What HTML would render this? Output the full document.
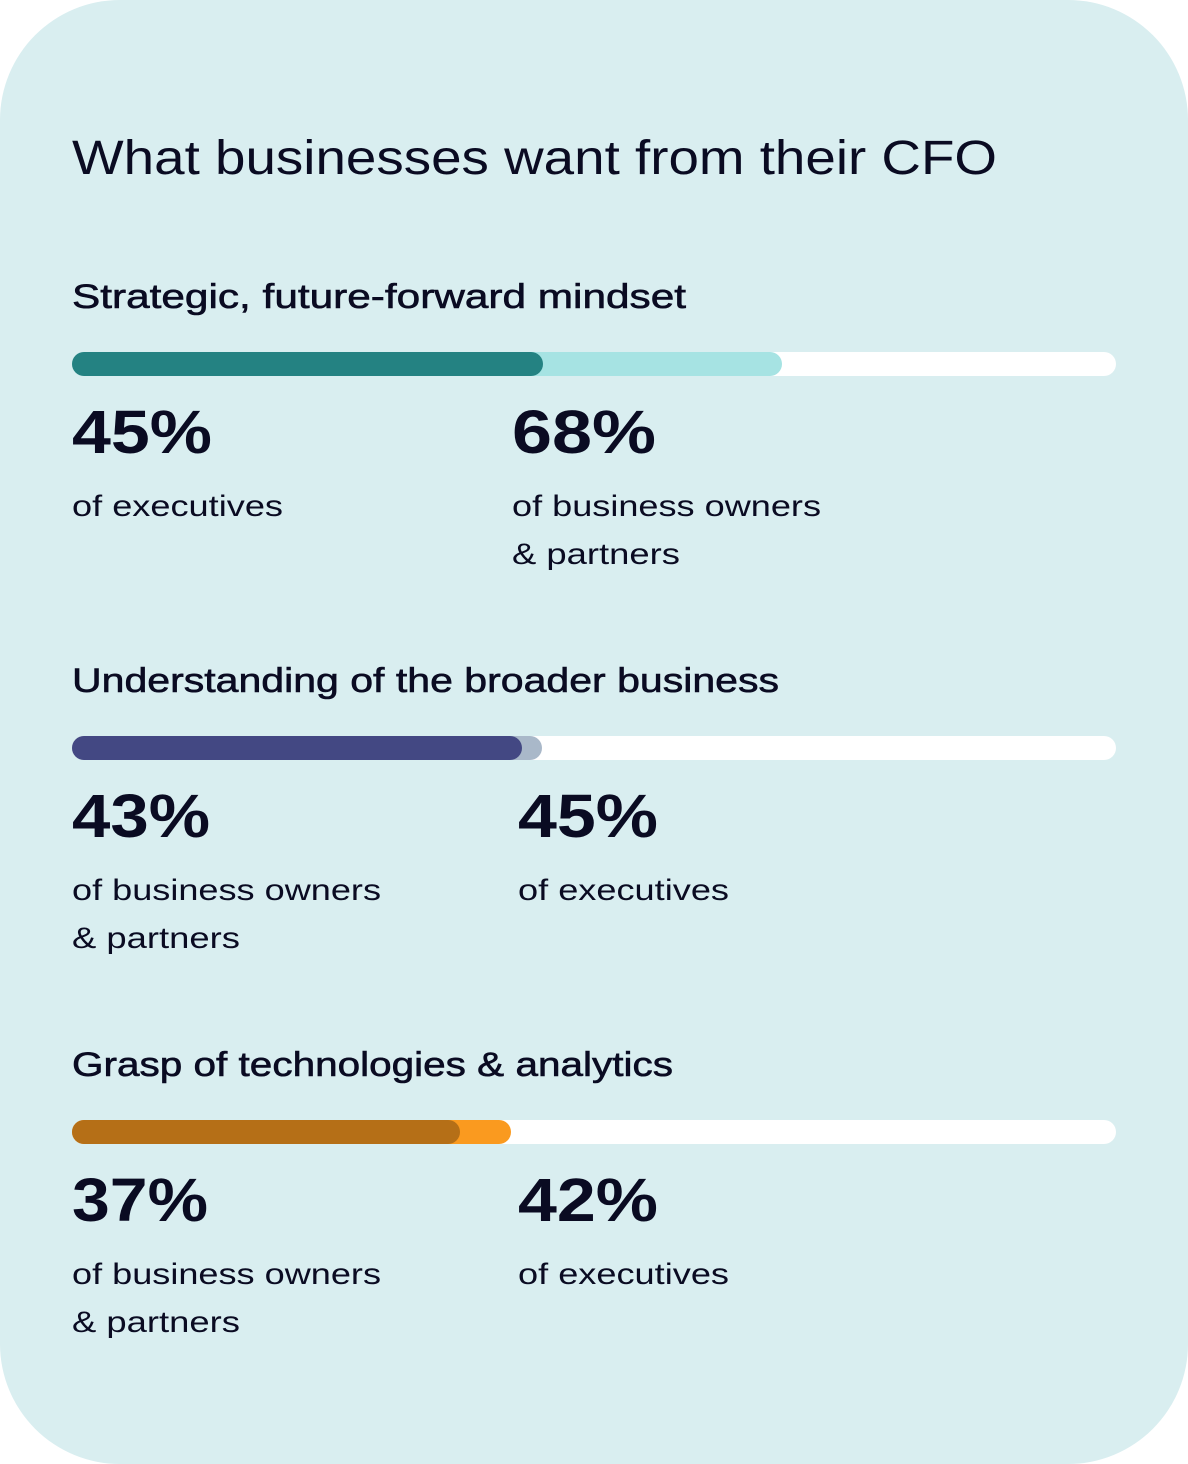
<!DOCTYPE html>
<html><head><meta charset="utf-8"><style>
html,body{margin:0;padding:0;background:#fff;}
svg{display:block}
text{font-family:"Liberation Sans",sans-serif;fill:#0a0b22}
.t{font-size:48px}
.h{font-size:34px;stroke:#0a0b22;stroke-width:0.6}
.p{font-size:61px;font-weight:bold}
.l{font-size:30px}
</style></head><body>
<svg width="1188" height="1464" viewBox="0 0 1188 1464">
<rect x="0" y="0" width="1188" height="1464" rx="120" fill="#d9eef0"/>
<text class="t" x="72" y="174" textLength="925" lengthAdjust="spacingAndGlyphs">What businesses want from their CFO</text>

<text class="h" x="72" y="308" textLength="614" lengthAdjust="spacingAndGlyphs">Strategic, future-forward mindset</text>
<rect x="72" y="352" width="1044" height="24" rx="12" fill="#fff"/>
<rect x="72" y="352" width="710" height="24" rx="12" fill="#a6e3e3"/>
<rect x="72" y="352" width="471" height="24" rx="12" fill="#248282"/>
<text class="p" x="72" y="453" textLength="140" lengthAdjust="spacingAndGlyphs">45%</text>
<text class="l" x="72" y="516" textLength="211" lengthAdjust="spacingAndGlyphs">of executives</text>
<text class="p" x="512" y="453" textLength="144" lengthAdjust="spacingAndGlyphs">68%</text>
<text class="l" x="512" y="516" textLength="309" lengthAdjust="spacingAndGlyphs">of business owners</text>
<text class="l" x="512" y="564" textLength="168" lengthAdjust="spacingAndGlyphs">&amp; partners</text>

<text class="h" x="72" y="692" textLength="707" lengthAdjust="spacingAndGlyphs">Understanding of the broader business</text>
<rect x="72" y="736" width="1044" height="24" rx="12" fill="#fff"/>
<rect x="72" y="736" width="470" height="24" rx="12" fill="#a9b8c9"/>
<rect x="72" y="736" width="450" height="24" rx="12" fill="#434883"/>
<text class="p" x="72" y="837" textLength="138" lengthAdjust="spacingAndGlyphs">43%</text>
<text class="l" x="72" y="900" textLength="309" lengthAdjust="spacingAndGlyphs">of business owners</text>
<text class="l" x="72" y="948" textLength="168" lengthAdjust="spacingAndGlyphs">&amp; partners</text>
<text class="p" x="518" y="837" textLength="140" lengthAdjust="spacingAndGlyphs">45%</text>
<text class="l" x="518" y="900" textLength="211" lengthAdjust="spacingAndGlyphs">of executives</text>

<text class="h" x="72" y="1076" textLength="601" lengthAdjust="spacingAndGlyphs">Grasp of technologies &amp; analytics</text>
<rect x="72" y="1120" width="1044" height="24" rx="12" fill="#fff"/>
<rect x="72" y="1120" width="439" height="24" rx="12" fill="#fa9a1f"/>
<rect x="72" y="1120" width="388" height="24" rx="12" fill="#b56f17"/>
<text class="p" x="72" y="1221" textLength="136" lengthAdjust="spacingAndGlyphs">37%</text>
<text class="l" x="72" y="1284" textLength="309" lengthAdjust="spacingAndGlyphs">of business owners</text>
<text class="l" x="72" y="1332" textLength="168" lengthAdjust="spacingAndGlyphs">&amp; partners</text>
<text class="p" x="518" y="1221" textLength="140" lengthAdjust="spacingAndGlyphs">42%</text>
<text class="l" x="518" y="1284" textLength="211" lengthAdjust="spacingAndGlyphs">of executives</text>
</svg>
</body></html>
